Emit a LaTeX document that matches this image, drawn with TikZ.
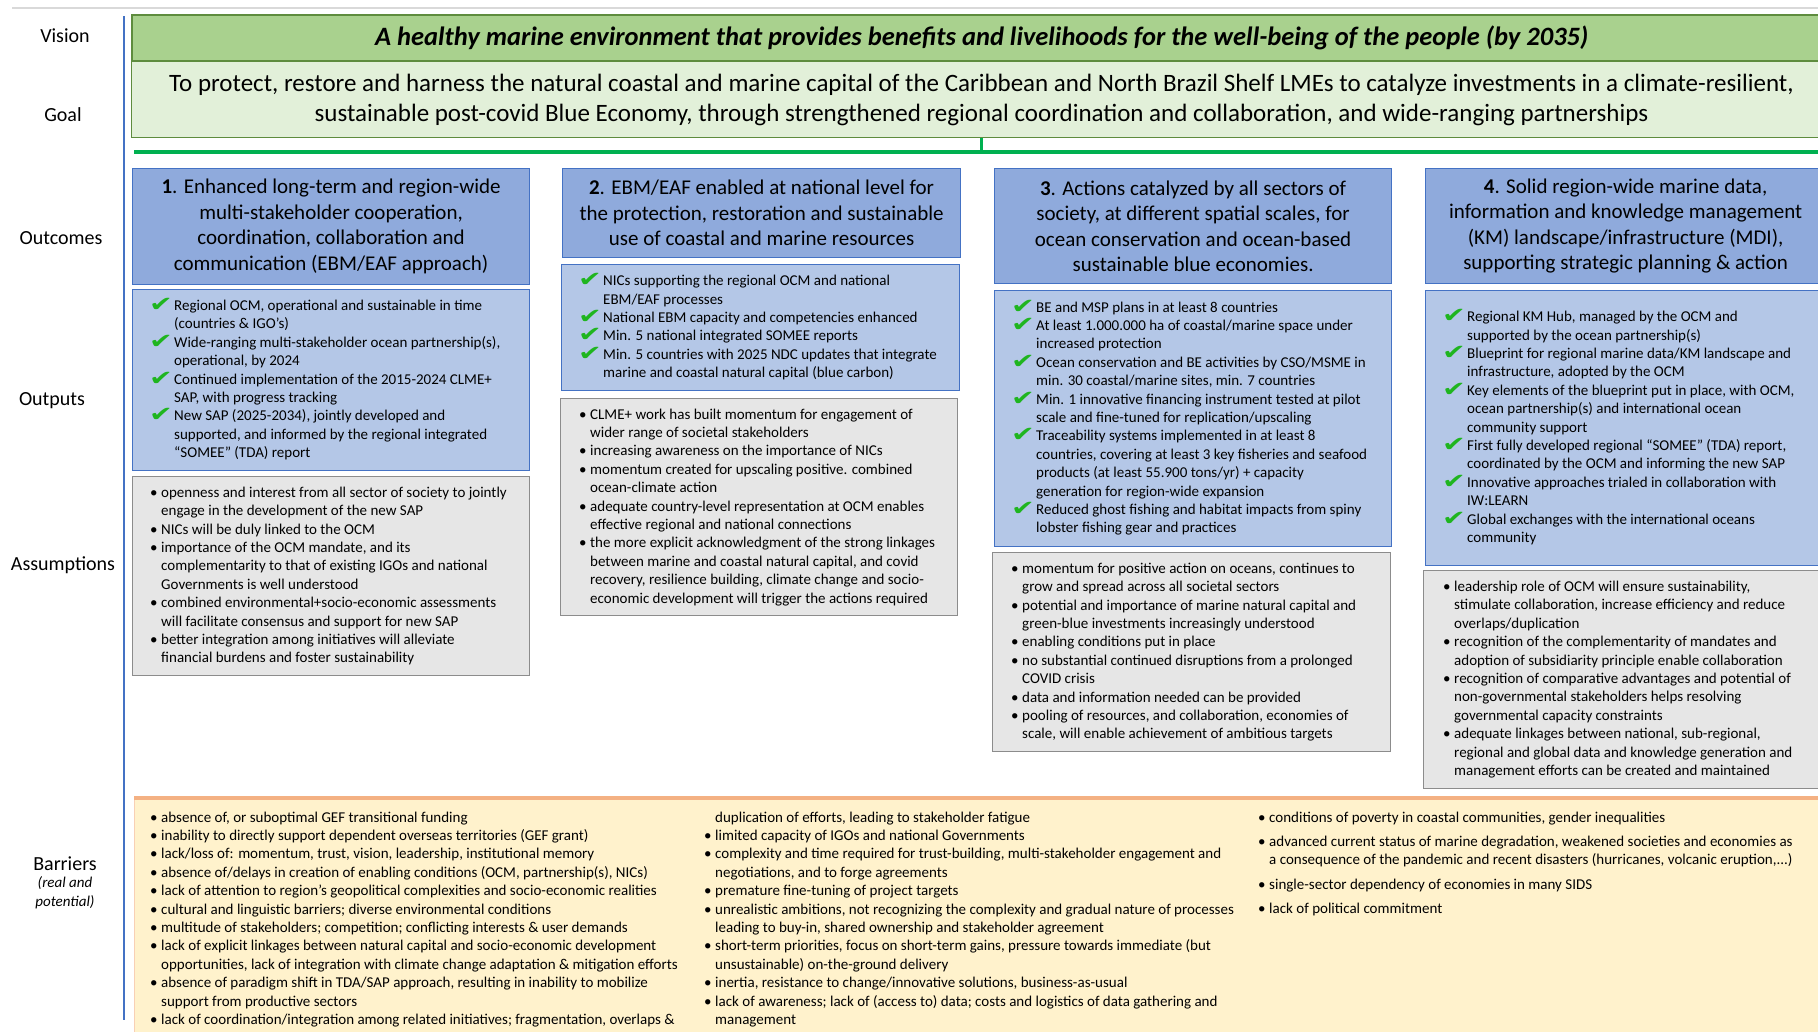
\documentclass[tikz,border=0pt]{standalone}
\usepackage{fontspec}
\setmainfont{Carlito}
\newfontfamily\symfont{DejaVu Sans}
\usepackage{graphicx}
\usetikzlibrary{positioning}

\definecolor{visfill}{HTML}{A9D18E}
\definecolor{visdraw}{HTML}{5E8C3E}
\definecolor{goalfill}{HTML}{E2F0D9}
\definecolor{outcfill}{HTML}{8FAADC}
\definecolor{bluedraw}{HTML}{4472C4}
\definecolor{outpfill}{HTML}{B4C7E7}
\definecolor{assfill}{HTML}{E6E6E6}
\definecolor{assdraw}{HTML}{8C8C8C}
\definecolor{barfill}{HTML}{FFF2CC}
\definecolor{bardraw}{HTML}{F4B183}
\definecolor{linkgreen}{HTML}{00B050}
\definecolor{chkgreen}{HTML}{1FB51F}
\definecolor{topgray}{HTML}{D9D9D9}

\newcommand\okmark{\makebox[25pt][l]{\smash{\raisebox{-1pt}{\scalebox{1.35}[1]{\symfont\fontsize{21}{21}\selectfont\color{chkgreen}✔}}}}}
\newcommand\okpad{\hspace*{25pt}}
\newcommand\dotmark{\makebox[11pt][l]{\textbullet}}
\newcommand\dotpad{\hspace*{11pt}}

\begin{document}
\begin{tikzpicture}[
		x=1pt, y=-1pt,
		every node/.style={font=\fontsize{15}{18.4}\selectfont, inner sep=0pt},
		lbl/.style={font=\fontsize{20}{24}\selectfont},
		note/.style={font=\fontsize{15}{19}\selectfont\itshape, align=center},
		visbox/.style={draw=visdraw, fill=visfill, line width=1.5pt, anchor=north west,
			minimum width=1700pt, minimum height=46pt, font=\fontsize{26.5}{30}\selectfont\bfseries\itshape},
		goalbox/.style={draw=visdraw, fill=goalfill, line width=1pt, anchor=north west,
			minimum width=1700pt, minimum height=76pt, align=center, font=\fontsize{25}{30}\selectfont},
		outcbox/.style={draw=bluedraw, fill=outcfill, line width=1.2pt, anchor=north west,
			align=center, font=\fontsize{21}{25.5}\selectfont},
		outpbox/.style={draw=bluedraw, fill=outpfill, line width=1.2pt, anchor=north west},
		assbox/.style={draw=assdraw, fill=assfill, line width=1.2pt, anchor=north west},
		barbox/.style={draw=bardraw!60, fill=barfill, line width=0.8pt, anchor=north west},
		listtext/.style={align=left},
		link/.style={draw=linkgreen, line width=4pt}]
		
		\useasboundingbox (0,0) rectangle (1818,1031);
		
		\draw[topgray, line width=2pt] (12,8) -- (1818,8);
		\draw[bluedraw, line width=2.5pt] (124,16) -- (124,1020);
		
		\node[lbl] (lvis) at (65,36) {Vision};
		\node[lbl] (lgoal) at (63,115) {Goal};
		\node[lbl] (lout) at (61,238) {Outcomes};
		\node[lbl] (lop) at (52,401) {Outputs};
		\node[lbl] (lass) at (63,565) {Assumptions};
		\node[lbl] (lbar) at (65,864) {Barriers};
		\node[note, below=5pt of lbar] (lbarn) {(real and\\potential)};
		
		\node[visbox] (vis) at (131,14) {A healthy marine environment that provides benefits and livelihoods for the well-being of the people (by 2035)};
		\node[goalbox] (goal) at (131,61) {To protect, restore and harness the natural coastal and marine capital of the Caribbean and North Brazil Shelf LMEs to catalyze investments in a climate-resilient,\\sustainable post-covid Blue Economy, through strengthened regional coordination and collaboration, and wide-ranging partnerships};
		
		\coordinate (gl) at (134,152);
		\coordinate (gr) at (1830,152);
		\draw[link, line width=3pt] (goal.south) -- (goal.south |- gl);
		\draw[link] (gl) -- (gr);
		
		\node[outcbox, minimum width=397pt, minimum height=116pt] (o1) at (132,168) {\textbf{1}. Enhanced long-term and region-wide\\multi-stakeholder cooperation,\\coordination, collaboration and\\communication (EBM/EAF approach)};
		\node[outcbox, minimum width=398pt, minimum height=89pt] (o2) at (562,168) {\textbf{2}. EBM/EAF enabled at national level for\\the protection, restoration and sustainable\\use of coastal and marine resources};
		\node[outcbox, minimum width=397pt, minimum height=115pt] (o3) at (994,168) {\textbf{3}. Actions catalyzed by all sectors of\\society, at different spatial scales, for\\ocean conservation and ocean-based\\sustainable blue economies.};
		\node[outcbox, minimum width=400pt, minimum height=115pt] (o4) at (1425,168) {\textbf{4}. Solid region-wide marine data,\\information and knowledge management\\(KM) landscape/infrastructure (MDI),\\supporting strategic planning \& action};
		
		\node[outpbox, minimum width=397pt, minimum height=181pt] (p1) at (132,289) {};
		\node[listtext, right=17pt of p1.west] (p1t) {\okmark Regional OCM, operational and sustainable in time\\\okpad (countries \& IGO’s)\\\okmark Wide-ranging multi-stakeholder ocean partnership(s),\\\okpad operational, by 2024\\\okmark Continued implementation of the 2015-2024 CLME+\\\okpad SAP, with progress tracking\\\okmark New SAP (2025-2034), jointly developed and\\\okpad supported, and informed by the regional integrated\\\okpad “SOMEE” (TDA) report};
		
		\node[outpbox, minimum width=398pt, minimum height=126pt] (p2) at (561,264) {};
		\node[listtext, right=17pt of p2.west] (p2t) {\okmark NICs supporting the regional OCM and national\\\okpad EBM/EAF processes\\\okmark National EBM capacity and competencies enhanced\\\okmark Min. 5 national integrated SOMEE reports\\\okmark Min. 5 countries with 2025 NDC updates that integrate\\\okpad marine and coastal natural capital (blue carbon)};
		
		\node[outpbox, minimum width=397pt, minimum height=256pt] (p3) at (994,290) {};
		\node[listtext, right=17pt of p3.west] (p3t) {\okmark BE and MSP plans in at least 8 countries\\\okmark At least 1.000.000 ha of coastal/marine space under\\\okpad increased protection\\\okmark Ocean conservation and BE activities by CSO/MSME in\\\okpad min. 30 coastal/marine sites, min. 7 countries\\\okmark Min. 1 innovative financing instrument tested at pilot\\\okpad scale and fine-tuned for replication/upscaling\\\okmark Traceability systems implemented in at least 8\\\okpad countries, covering at least 3 key fisheries and seafood\\\okpad products (at least 55.900 tons/yr) + capacity\\\okpad generation for region-wide expansion\\\okmark Reduced ghost fishing and habitat impacts from spiny\\\okpad lobster fishing gear and practices};
		
		\node[outpbox, minimum width=400pt, minimum height=275pt] (p4) at (1425,290) {};
		\node[listtext, right=17pt of p4.west] (p4t) {\okmark Regional KM Hub, managed by the OCM and\\\okpad supported by the ocean partnership(s)\\\okmark Blueprint for regional marine data/KM landscape and\\\okpad infrastructure, adopted by the OCM\\\okmark Key elements of the blueprint put in place, with OCM,\\\okpad ocean partnership(s) and international ocean\\\okpad community support\\\okmark First fully developed regional “SOMEE” (TDA) report,\\\okpad coordinated by the OCM and informing the new SAP\\\okmark Innovative approaches trialed in collaboration with\\\okpad IW:LEARN\\\okmark Global exchanges with the international oceans\\\okpad community};
		
		\node[assbox, minimum width=397pt, minimum height=199pt] (a1) at (132,476) {};
		\node[listtext, right=18pt of a1.west] (a1t) {\dotmark openness and interest from all sector of society to jointly\\\dotpad engage in the development of the new SAP\\\dotmark NICs will be duly linked to the OCM\\\dotmark importance of the OCM mandate, and its\\\dotpad complementarity to that of existing IGOs and national\\\dotpad Governments is well understood\\\dotmark combined environmental+socio-economic assessments\\\dotpad will facilitate consensus and support for new SAP\\\dotmark better integration among initiatives will alleviate\\\dotpad financial burdens and foster sustainability};
		
		\node[assbox, minimum width=397pt, minimum height=217pt] (a2) at (560,398) {};
		\node[listtext, right=19pt of a2.west] (a2t) {\dotmark CLME+ work has built momentum for engagement of\\\dotpad wider range of societal stakeholders\\\dotmark increasing awareness on the importance of NICs\\\dotmark momentum created for upscaling positive. combined\\\dotpad ocean-climate action\\\dotmark adequate country-level representation at OCM enables\\\dotpad effective regional and national connections\\\dotmark the more explicit acknowledgment of the strong linkages\\\dotpad between marine and coastal natural capital, and covid\\\dotpad recovery, resilience building, climate change and socio-\\\dotpad economic development will trigger the actions required};
		
		\node[assbox, minimum width=398pt, minimum height=199pt] (a3) at (992,552) {};
		\node[listtext, right=19pt of a3.west] (a3t) {\dotmark momentum for positive action on oceans, continues to\\\dotpad grow and spread across all societal sectors\\\dotmark potential and importance of marine natural capital and\\\dotpad green-blue investments increasingly understood\\\dotmark enabling conditions put in place\\\dotmark no substantial continued disruptions from a prolonged\\\dotpad COVID crisis\\\dotmark data and information needed can be provided\\\dotmark pooling of resources, and collaboration, economies of\\\dotpad scale, will enable achievement of ambitious targets};
		
		\node[assbox, minimum width=400pt, minimum height=218pt] (a4) at (1423,570) {};
		\node[listtext, right=20pt of a4.west] (a4t) {\dotmark leadership role of OCM will ensure sustainability,\\\dotpad stimulate collaboration, increase efficiency and reduce\\\dotpad overlaps/duplication\\\dotmark recognition of the complementarity of mandates and\\\dotpad adoption of subsidiarity principle enable collaboration\\\dotmark recognition of comparative advantages and  potential of\\\dotpad non-governmental stakeholders helps resolving\\\dotpad governmental capacity constraints\\\dotmark adequate linkages between national, sub-regional,\\\dotpad regional and global data and knowledge generation and\\\dotpad management efforts can be created and maintained};
		
		\node[barbox, minimum width=1700pt, minimum height=240pt] (bar) at (134,798) {};
		\draw[bardraw, line width=3.5pt] (bar.north west) -- (bar.north east);
		
		\node[listtext, anchor=north west] (b1) at (150,811.5) {\dotmark absence of, or suboptimal GEF transitional funding\\\dotmark inability to directly support dependent overseas territories (GEF grant)\\\dotmark lack/loss of: momentum, trust, vision, leadership, institutional memory\\\dotmark absence of/delays in creation of enabling conditions (OCM, partnership(s), NICs)\\\dotmark lack of attention to  region’s geopolitical complexities and socio-economic realities\\\dotmark cultural and linguistic barriers; diverse environmental conditions\\\dotmark multitude of stakeholders; competition; conflicting interests \& user demands\\\dotmark lack of explicit linkages between natural capital and socio-economic development\\\dotpad opportunities, lack of integration with climate change adaptation \& mitigation efforts\\\dotmark absence of paradigm shift in TDA/SAP approach, resulting in inability to mobilize\\\dotpad support from productive sectors\\\dotmark lack of coordination/integration among related initiatives; fragmentation, overlaps \&};
		\node[listtext, anchor=north west] (b2) at (704,811.5) {\dotpad duplication of efforts, leading to stakeholder fatigue\\\dotmark limited capacity of IGOs and national Governments\\\dotmark complexity and time required for trust-building, multi-stakeholder engagement and\\\dotpad negotiations, and to forge agreements\\\dotmark premature fine-tuning of project targets\\\dotmark unrealistic ambitions, not recognizing the complexity and gradual nature of processes\\\dotpad leading to buy-in, shared ownership and stakeholder agreement\\\dotmark short-term priorities, focus on short-term gains, pressure towards immediate (but\\\dotpad unsustainable) on-the-ground delivery\\\dotmark inertia, resistance to change/innovative solutions, business-as-usual\\\dotmark lack of awareness; lack of (access to) data; costs and logistics of data gathering and\\\dotpad management};
		\node[listtext, anchor=north west] (b3) at (1258,811.5) {\dotmark conditions of poverty in coastal communities, gender inequalities\\[6pt]\dotmark advanced current status of marine degradation, weakened societies and economies as\\\dotpad a consequence of the pandemic and recent disasters (hurricanes, volcanic eruption,...)\\[6pt]\dotmark single-sector dependency of economies in many SIDS\\[6pt]\dotmark lack of political commitment};
		
	\end{tikzpicture}
\end{document}
